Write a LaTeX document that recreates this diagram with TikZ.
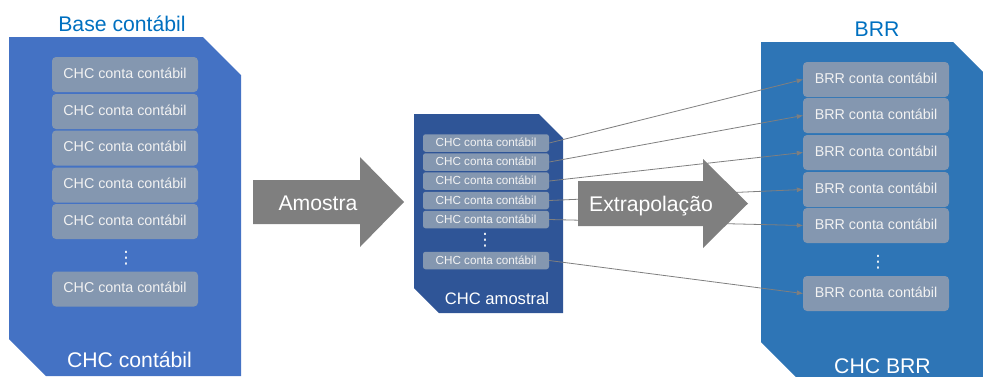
\documentclass[tikz,border=0pt]{standalone}
\usepackage{fontspec}
\setmainfont{Liberation Sans}
\newfontfamily\symfont{DejaVu Sans}
\usetikzlibrary{arrows.meta}
\definecolor{leftblue}{HTML}{4472C4}
\definecolor{midblue}{HTML}{2F5597}
\definecolor{rightblue}{HTML}{2E75B6}
\definecolor{boxgray}{HTML}{8497B0}
\definecolor{arrowgray}{HTML}{7F7F7F}
\definecolor{titleblue}{HTML}{0070C0}
\begin{document}
\begin{tikzpicture}[
		x=1pt, y=-1pt,
		contabox/.style={rectangle, rounded corners=4pt, fill=boxgray, text=white!95!black, inner sep=0pt,
				minimum width=146pt, minimum height=35pt, text height=0.716em, text depth=0pt,
				font=\fontsize{14.3}{16}\selectfont},
		amostrabox/.style={contabox, rounded corners=2.5pt, minimum width=126pt, minimum height=17.5pt,
				font=\fontsize{11.7}{13}\selectfont},
		vdotsnode/.style={text=white, inner sep=0pt, font=\symfont\fontsize{17}{17}\selectfont},
		title/.style={anchor=base, text=titleblue, font=\fontsize{21.2}{24}\selectfont},
		panellabel/.style={anchor=base, text=white, font=\fontsize{21.2}{24}\selectfont},
		conn/.style={draw=arrowgray, line width=0.8pt, -{Triangle[length=6pt, width=4.5pt]}},
	]
	\useasboundingbox (0,0) rectangle (983,376);
	\clip (0,0) rectangle (983,376);
	% panels
	\fill[leftblue] (9,37) -- (203,37) -- (241,75) -- (241,376) -- (46,376) -- (9,339) -- cycle;
	\fill[midblue] (414,114) -- (539,114) -- (563,138) -- (563,313) -- (439,313) -- (414,288) -- cycle;
	\fill[rightblue] (761,42) -- (953,42) -- (992,81) -- (992,390) -- (809,390) -- (761,342) -- cycle;
	% Base contabil
	\foreach \i/\y in {1/74.5, 2/111.5, 3/148, 4/185, 5/221.5, 6/289}
		\node[contabox] (b\i) at (125,\y) {CHC conta contábil};
	\node[vdotsnode] (bdots) at (126,258.5) {⋮};
	% CHC amostral
	\foreach \i/\y in {1/143, 2/162, 3/181, 4/200.5, 5/219.5, 6/260.5}
		\node[amostrabox] (m\i) at (486,\y) {CHC conta contábil};
	\node[vdotsnode] (mdots) at (485,240) {⋮};
	% BRR
	\foreach \i/\y in {1/79.5, 2/115.5, 3/152.5, 4/189.5, 5/225.5, 6/293.5}
		\node[contabox] (r\i) at (876,\y) {BRR conta contábil};
	\node[vdotsnode] (rdots) at (878,262) {⋮};
	% ligacoes
	\foreach \i in {1,...,6}
		\draw[conn] (m\i.east) -- (r\i.west);
	% setas grandes
	\fill[arrowgray] (253,180) -- (360,180) -- (360,157) -- (404,202) -- (360,247) -- (360,224) -- (253,224) -- cycle;
	\fill[arrowgray] (578,181) -- (703,181) -- (703,159) -- (748,203.5) -- (703,248) -- (703,226) -- (578,226) -- cycle;
	\node[panellabel] (amostra) at (318,210) {Amostra};
	\node[panellabel] (extrap) at (651,211) {Extrapolação};
	% titulos
	\node[title] (tbase) at (122,31) {Base contábil};
	\node[title] (tbrr) at (877,36.7) {BRR};
	\node[panellabel] (lbase) at (129.5,367) {CHC contábil};
	\node[panellabel, font=\fontsize{16.6}{19}\selectfont] (lamostral) at (497,304) {CHC amostral};
	\node[panellabel] (lbrr) at (882.5,373) {CHC BRR};
\end{tikzpicture}
\end{document}
